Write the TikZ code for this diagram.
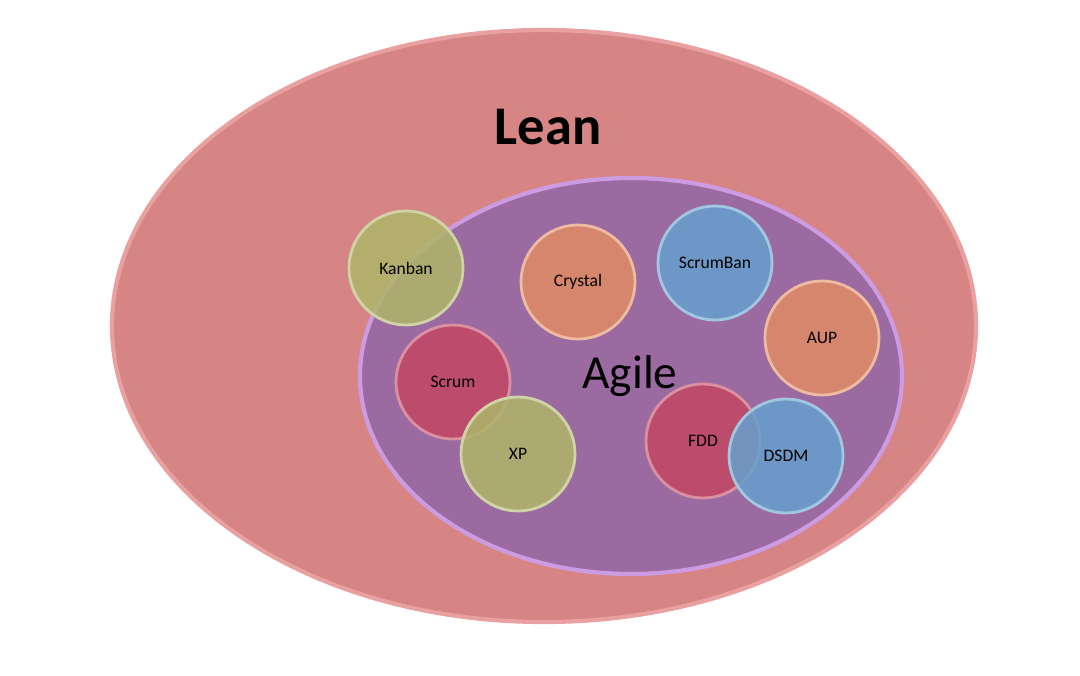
\documentclass[tikz,border=0pt]{standalone}
\usepackage{fontspec}
\setmainfont{Carlito}
\definecolor{leanred}{RGB}{214,132,132}
\definecolor{leanedge}{RGB}{232,160,160}
\definecolor{agilepurple}{RGB}{155,106,160}
\definecolor{agileedge}{RGB}{205,155,225}
\definecolor{olive}{RGB}{175,182,105}
\definecolor{peach}{RGB}{225,140,100}
\definecolor{skyblue}{RGB}{100,160,205}
\definecolor{rosered}{RGB}{195,70,100}
\tikzset{
method/.style={circle, minimum size=1.14cm, inner sep=0pt, line width=0.8pt, fill opacity=0.85, text opacity=1, font=\fontsize{5}{6}\selectfont}, % one method bubble
olivem/.style={method, fill=olive, draw=olive!60!white},
peachm/.style={method, fill=peach, draw=peach!60!white},
bluem/.style={method, fill=skyblue, draw=skyblue!60!white},
redm/.style={method, fill=rosered, draw=rosered!60!white},
}
\begin{document}
\begin{tikzpicture}
      \useasboundingbox (0,0) rectangle (10.8,6.75);
      \draw[fill=leanred, draw=leanedge, line width=1.2pt] (5.44,3.49) ellipse (4.32 and 2.96);
      \draw[fill=agilepurple, draw=agileedge, line width=1.2pt] (6.31,2.99) ellipse (2.71 and 1.98);
      \node[font=\fontsize{15.5}{18}\selectfont\bfseries] (lean) at (5.48,5.48) {Lean};
      \node[font=\fontsize{13.5}{16}\selectfont] (agile) at (6.30,2.99) {Agile};

      \node[olivem] (kanban) at (4.06,4.07) {Kanban};
      \node[peachm] (crystal) at (5.78,3.93) {Crystal};
      \node[bluem] (scrumban) at (7.15,4.12) {ScrumBan};
      \node[peachm] (aup) at (8.22,3.37) {AUP};
      \node[redm] (scrum) at (4.53,2.93) {Scrum};
      \node[olivem] (xp) at (5.18,2.21) {XP};
      \node[redm] (fdd) at (7.03,2.34) {FDD};
      \node[bluem] (dsdm) at (7.86,2.19) {DSDM};
\end{tikzpicture}
\end{document}
